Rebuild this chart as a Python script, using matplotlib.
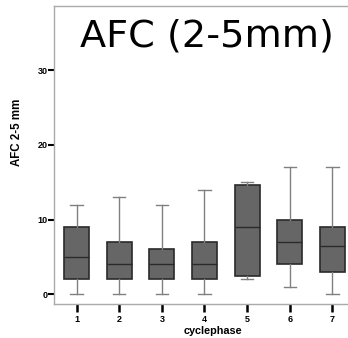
import matplotlib
matplotlib.use("Agg")
import matplotlib.pyplot as plt

categories = ["1", "2", "3", "4", "5", "6", "7"]
whislo = [0, 0, 0, 0, 2, 1, 0]
q1 = [2, 2, 2, 2, 2.5, 4, 3]
med = [5, 4, 4, 4, 9, 7, 6.5]
q3 = [9, 7, 6, 7, 14.6, 10, 9]
whishi = [12, 13, 12, 14, 15, 17, 17]
yticks = [0, 10, 20, 30]

stats = [dict(label=c, whislo=a, q1=b, med=m, q3=d, whishi=e, fliers=[])
         for c, a, b, m, d, e in zip(categories, whislo, q1, med, q3, whishi)]

W, H = 348, 338
fig = plt.figure(figsize=(W / 100, H / 100), dpi=100)
ax = fig.add_axes([54.5 / W, (H - 304) / H, 300 / W, 298 / H])

ax.bxp(stats, positions=range(1, 8), widths=0.59, patch_artist=True,
       boxprops=dict(facecolor="#666666", edgecolor="#2a2a2a", linewidth=1.2),
       medianprops=dict(color="#2a2a2a", linewidth=1.0),
       whiskerprops=dict(color="#808080", linewidth=1.0),
       capprops=dict(color="#808080", linewidth=1.0),
       capwidths=0.29, showfliers=False)

ax.set_xlim(0.48, 7.52)
ax.set_ylim(-1.3, 38.6)
ax.set_yticks(yticks)
ax.set_xticks(range(1, 8))
ax.set_xticklabels(categories)

for s in ax.spines.values():
    s.set_color("#aaaaaa")
    s.set_linewidth(1.0)

font = dict(family="Liberation Sans", weight="bold", size=7.8)
for lab in ax.get_xticklabels() + ax.get_yticklabels():
    lab.set_fontfamily("Liberation Sans")
    lab.set_fontweight("bold")
    lab.set_fontsize(6.5)
ax.tick_params(axis="x", direction="out", length=6, width=1.8, color="black", pad=2)
ax.tick_params(axis="y", direction="out", length=4, width=1.5, color="black", pad=1)

ax.set_xlabel("cyclephase", fontdict=font)
ax.set_ylabel("AFC 2-5 mm", fontdict=dict(font, size=8.3))
ax.xaxis.label.set_va("center")
ax.yaxis.label.set_va("center")
ax.xaxis.set_label_coords((212.5 - 54.5) / 300, -(331.5 - 304) / 298)
ax.yaxis.set_label_coords((17 - 54.5) / 300, (304 - 132.5) / 298)

fig.text(207 / W, 1 - 47 / H, "AFC (2-5mm)", ha="center", va="baseline",
         fontsize=27.5, family="DejaVu Sans")

fig.savefig("out.png", dpi=100)
